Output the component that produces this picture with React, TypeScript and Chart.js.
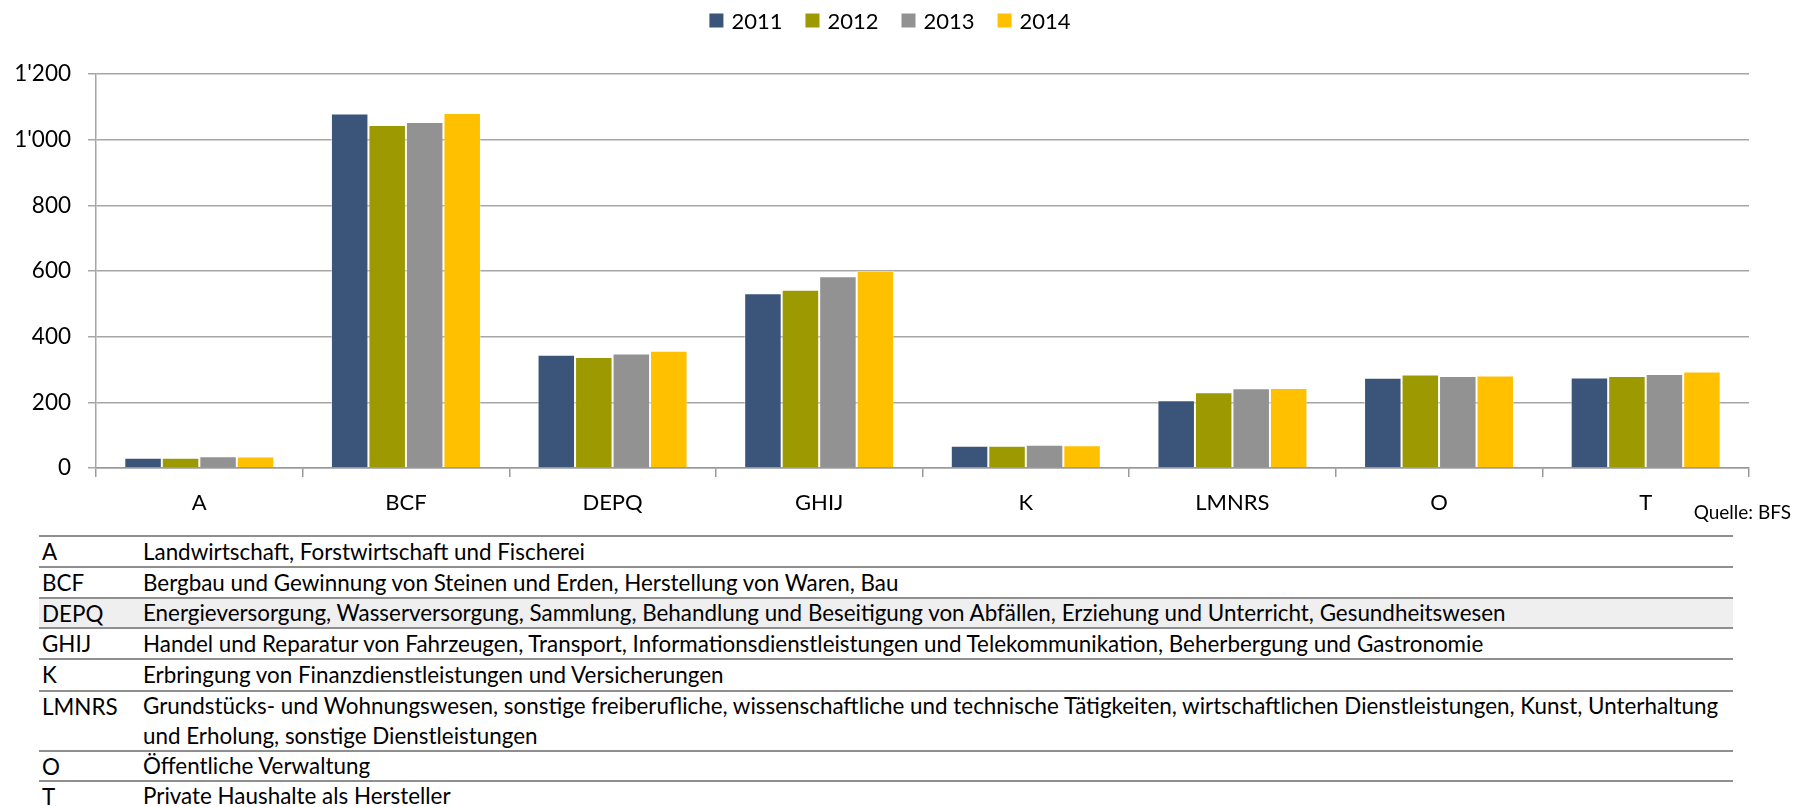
import React, { useEffect, useRef } from "react";
import { Chart, registerables } from "chart.js";

Chart.register(...registerables);

const categories = ["A", "BCF", "DEPQ", "GHIJ", "K", "LMNRS", "O", "T"];
const seriesLabels = ["2011", "2012", "2013", "2014"];
const values2011 = [31, 1080, 345, 532, 68, 206, 275, 276];
const values2012 = [31, 1045, 338, 543, 68, 231, 285, 280];
const values2013 = [36, 1054, 349, 584, 71, 243, 280, 286];
const values2014 = [35, 1081, 357, 601, 69, 244, 282, 294];
const seriesColors = ["#3B557A", "#9C9A00", "#929292", "#FFC000"];

const tableCodes = ["A", "BCF", "DEPQ", "GHIJ", "K", "LMNRS", "O", "T"];
const tableTexts = [
  ["Landwirtschaft, Forstwirtschaft und Fischerei"],
  ["Bergbau und Gewinnung von Steinen und Erden, Herstellung von Waren, Bau"],
  ["Energieversorgung, Wasserversorgung, Sammlung, Behandlung und Beseitigung von Abfällen, Erziehung und Unterricht, Gesundheitswesen"],
  ["Handel und Reparatur von Fahrzeugen, Transport, Informationsdienstleistungen und Telekommunikation, Beherbergung und Gastronomie"],
  ["Erbringung von Finanzdienstleistungen und Versicherungen"],
  [
    "Grundstücks- und Wohnungswesen, sonstige freiberufliche, wissenschaftliche und technische Tätigkeiten, wirtschaftlichen Dienstleistungen, Kunst, Unterhaltung",
    "und Erholung, sonstige Dienstleistungen",
  ],
  ["Öffentliche Verwaltung"],
  ["Private Haushalte als Hersteller"],
];
const rowHeights = [31, 31, 30, 31, 32, 60, 30, 30];
const shadedRow = 2;
const sourceText = "Quelle: BFS";

const FONT = "Lato, 'Noto Sans', sans-serif";

const fmt = (v: number) => String(v).replace(/\B(?=(\d{3})+(?!\d))/g, "'");

const legendPlugin = {
  id: "customLegend",
  afterDraw(chart: any) {
    const ctx = chart.ctx;
    const ds = chart.data.datasets;
    ctx.save();
    ctx.font = `22px ${FONT}`;
    ctx.textBaseline = "middle";
    const box = 14;
    const gap = 8;
    const spacing = 23;
    const widths = ds.map((d: any) => ctx.measureText(d.label).width);
    const total =
      widths.reduce((a: number, w: number) => a + box + gap + w, 0) + spacing * (ds.length - 1);
    let x = 890 - total / 2;
    const cy = 20.5;
    ds.forEach((d: any, i: number) => {
      ctx.fillStyle = d.backgroundColor;
      ctx.fillRect(x, cy - box / 2, box, box);
      ctx.fillStyle = "#000";
      ctx.fillText(d.label, x + box + gap, cy + 1);
      x += box + gap + widths[i] + spacing;
    });
    ctx.restore();
  },
};

function BarChart() {
  const ref = useRef<HTMLCanvasElement | null>(null);
  useEffect(() => {
    if (!ref.current) return;
    const all = [values2011, values2012, values2013, values2014];
    const chart = new Chart(ref.current, {
      type: "bar",
      data: {
        labels: categories,
        datasets: all.map((vals, i) => ({
          label: seriesLabels[i],
          data: vals,
          backgroundColor: seriesColors[i],
          borderColor: "rgba(255,255,255,0.45)",
          borderWidth: 1,
          categoryPercentage: 0.726,
          barPercentage: 1.0,
        })),
      },
      options: {
        responsive: false,
        animation: false,
        layout: { padding: { top: 74, right: 57, bottom: 0, left: 0 } },
        plugins: {
          legend: { display: false },
          tooltip: { enabled: false },
        },
        scales: {
          x: {
            grid: {
              display: true,
              offset: true,
              drawOnChartArea: false,
              drawTicks: true,
              tickLength: 9,
              color: "#9a9a9a",
              lineWidth: 1.5,
            },
            border: { display: true, color: "#9a9a9a", width: 1.5 },
            ticks: {
              color: "#000",
              font: { family: FONT, size: 22 },
              padding: 13,
            },
            afterFit: (s: any) => {
              s.height = 52;
            },
          },
          y: {
            min: 0,
            max: 1200,
            grid: {
              color: "#a6a6a6",
              lineWidth: 1.5,
              tickLength: 8,
            },
            border: { display: true, color: "#a6a6a6", width: 1.5 },
            ticks: {
              stepSize: 200,
              color: "#000",
              font: { family: FONT, size: 22.5 },
              padding: 17,
              callback: (v: any) => fmt(Number(v)),
            },
            afterFit: (s: any) => {
              s.width = 96;
            },
          },
        },
      },
      plugins: [legendPlugin],
    });
    return () => chart.destroy();
  }, []);
  return <canvas ref={ref} width={1806} height={520} style={{ display: "block" }} />;
}

export default function App() {
  let top = 535;
  return (
    <div
      style={{
        position: "absolute",
        left: 0,
        top: 0,
        width: 1806,
        height: 807,
        overflow: "hidden",
        background: "#fff",
        fontFamily: FONT,
        color: "#000",
      }}
    >
      <div style={{ position: "absolute", left: 0, top: 0 }}>
        <BarChart />
      </div>
      <div
        style={{
          position: "absolute",
          right: 1806 - 1791,
          top: 500,
          fontSize: 19,
          lineHeight: "24px",
          whiteSpace: "nowrap",
        }}
      >
        {sourceText}
      </div>
      {tableCodes.map((code, i) => {
        const h = rowHeights[i];
        const y = top;
        top += h;
        return (
          <div
            key={code}
            style={{
              position: "absolute",
              left: 39,
              top: y,
              width: 1694,
              height: h,
              boxSizing: "border-box",
              borderTop: "2px solid #8f8f8f",
              background: i === shadedRow ? "#efefef" : "transparent",
              display: "flex",
              alignItems: "center",
              fontSize: 22.4,
              lineHeight: "30px",
              whiteSpace: "nowrap",
            }}
          >
            <div style={{ width: 104, paddingLeft: 3, boxSizing: "border-box", alignSelf: "flex-start" }}>
              {code}
            </div>
            <div>
              {tableTexts[i].map((t, j) => (
                <div key={j}>{t}</div>
              ))}
            </div>
          </div>
        );
      })}
    </div>
  );
}
